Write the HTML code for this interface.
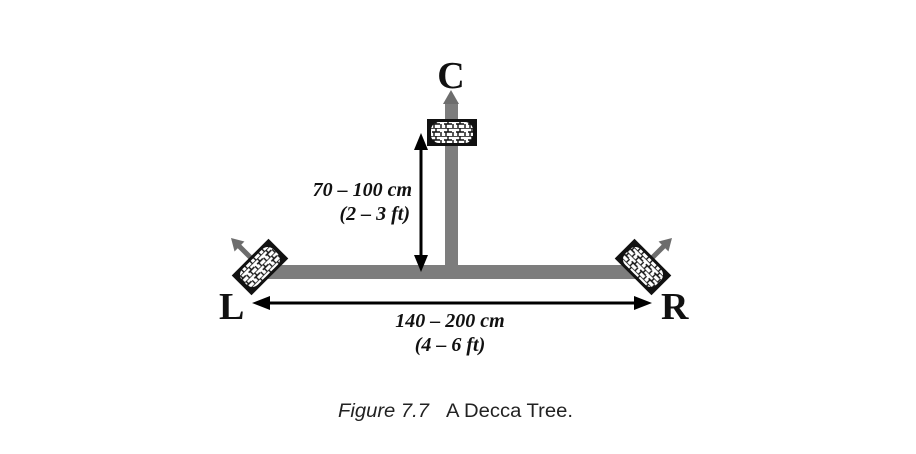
<!DOCTYPE html>
<html><head><style>body{margin:0;background:#fff}</style></head><body>
<svg width="916" height="449" xmlns="http://www.w3.org/2000/svg">
<defs>
<pattern id="p" width="12" height="8" patternUnits="userSpaceOnUse">
<rect width="12" height="8" fill="#fff"/>
<path d="M0 0H12M0 4H8M4 0V4M9 4V8M2 4V8" stroke="#111" stroke-width="1.4" fill="none"/>
</pattern>
</defs>
<!-- bars -->
<rect x="268" y="265" width="372" height="14" fill="#7d7d7d"/>
<rect x="445" y="102" width="13" height="170" fill="#7d7d7d"/>
<polygon points="451,90 443,104 459,104" fill="#6d6d6d"/>
<!-- C mic -->
<rect x="427" y="119" width="50" height="27" fill="#111"/>
<rect x="431" y="122" width="42" height="21" rx="8" fill="url(#p)"/>
<!-- L mic -->
<g transform="translate(260,267) rotate(-45)">
<line x1="0" y1="0" x2="0" y2="-32" stroke="#6d6d6d" stroke-width="5"/>
<polygon points="0,-41 -7,-29 7,-29" fill="#6d6d6d"/>
<rect x="-26" y="-14" width="52" height="28" fill="#111"/>
<rect x="-22" y="-11" width="44" height="22" rx="8" fill="url(#p)"/>
</g>
<!-- R mic -->
<g transform="translate(643,267) rotate(45)">
<line x1="0" y1="0" x2="0" y2="-32" stroke="#6d6d6d" stroke-width="5"/>
<polygon points="0,-41 -7,-29 7,-29" fill="#6d6d6d"/>
<rect x="-26" y="-14" width="52" height="28" fill="#111"/>
<rect x="-22" y="-11" width="44" height="22" rx="8" fill="url(#p)"/>
</g>
<!-- dimension arrows -->
<line x1="421" y1="148" x2="421" y2="257" stroke="#000" stroke-width="3"/>
<polygon points="421,133 414,150 428,150" fill="#000"/>
<polygon points="421,272 414,255 428,255" fill="#000"/>
<line x1="268" y1="303" x2="636" y2="303" stroke="#000" stroke-width="3"/>
<polygon points="252,303 270,296 270,310" fill="#000"/>
<polygon points="652,303 634,296 634,310" fill="#000"/>
<g font-family="Liberation Serif, serif" font-weight="bold" fill="#111">
<text x="451" y="88" font-size="38" text-anchor="middle">C</text>
<text x="219" y="319" font-size="38">L</text>
<text x="661" y="319" font-size="38">R</text>
<g font-style="italic" font-size="20">
<text x="412" y="196" text-anchor="end">70 – 100 cm</text>
<text x="410" y="220" text-anchor="end">(2 – 3 ft)</text>
<text x="450" y="327" text-anchor="middle">140 – 200 cm</text>
<text x="450" y="351" text-anchor="middle">(4 – 6 ft)</text>
</g>
</g>
<text x="338" y="417" font-family="Liberation Sans, sans-serif" font-size="19" fill="#222" textLength="235" lengthAdjust="spacingAndGlyphs"><tspan font-style="italic">Figure 7.7</tspan><tspan dx="16">A Decca Tree.</tspan></text>
</svg>
</body></html>
